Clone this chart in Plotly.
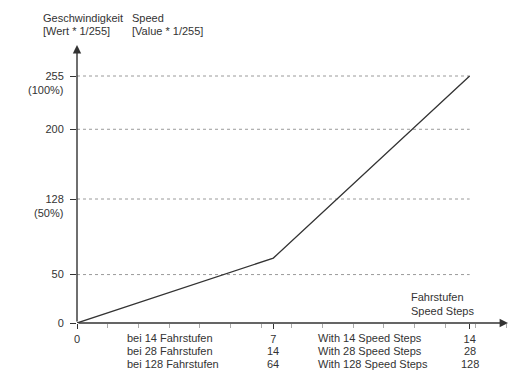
import plotly.graph_objects as go

# Data (x in 128-step units; 64 = half, 128 = full)
steps_128 = [0, 64, 128]
speed_value = [0, 67, 255]

y_ticks = [0, 50, 128, 200, 255]
y_grid = [50, 128, 200, 255]
y_pct_vals = [255, 128]
y_pct_text = ["(100%)", "(50%)"]

x_tickvals = [0, 64, 128]
x_row1 = ["0", "7", "14"]
x_row2 = ["", "14", "28"]
x_row3 = ["", "64", "128"]
de_rows = ["bei 14 Fahrstufen", "bei 28 Fahrstufen", "bei 128 Fahrstufen"]
en_rows = ["With 14 Speed Steps", "With 28 Speed Steps", "With 128 Speed Steps"]

FONT = "Liberation Sans"
TXT = "#333333"
SIZE = 11

# page geometry (page has an 8px body margin)
OFF = 8
PW, PH = 518, 383
PL, PR, PT, PB = 77, 508, 45, 323  # plot area in page pixels

fig = go.Figure()

for g in y_grid:
    fig.add_trace(go.Scatter(x=[0, max(steps_128)], y=[g, g], mode="lines",
                             line=dict(color="#9a9a9a", width=1, dash="3px,3px"),
                             hoverinfo="skip", showlegend=False))

fig.add_trace(go.Scatter(x=steps_128, y=speed_value, mode="lines",
                         line=dict(color="#333333", width=1.3),
                         showlegend=False))

def px(xp, yp):
    return (xp - PL) / (PR - PL), 1 - (yp - PT) / (PB - PT)

def text(xp, yp, t, anchor="left"):
    x, y = px(xp, yp)
    return dict(x=x, y=y, xref="paper", yref="paper", text=t, showarrow=False,
                xanchor=anchor, yanchor="middle", font=dict(family=FONT, size=SIZE, color=TXT))

ann = []
# axis arrows
ann.append(dict(x=140.5, y=0, ax=0, ay=0, xref="x", yref="y", axref="x", ayref="y",
                text="", showarrow=True, arrowhead=2, arrowsize=1.2, arrowwidth=1.4,
                arrowcolor=TXT, standoff=0))
ann.append(dict(x=0, y=287, ax=0, ay=0, xref="x", yref="y", axref="x", ayref="y",
                text="", showarrow=True, arrowhead=2, arrowsize=1.2, arrowwidth=1.4,
                arrowcolor=TXT, standoff=0))
for v, t in zip(y_pct_vals, y_pct_text):
    ann.append(dict(x=0, y=v, xref="x", yref="y", text=t, showarrow=False,
                    xanchor="right", yanchor="middle", xshift=-12, yshift=-14,
                    font=dict(family=FONT, size=SIZE, color=TXT)))
# lower rows of the x tick labels
for i, xv in enumerate(x_tickvals):
    for r, row in enumerate([x_row2, x_row3]):
        if row[i]:
            ann.append(dict(x=xv, y=0, xref="x", yref="y", text=row[i], showarrow=False,
                            xanchor="center", yanchor="middle", yshift=-15 - 13 * (r + 1),
                            font=dict(family=FONT, size=SIZE, color=TXT)))
# header and side texts
ann.append(text(41, 18, "Geschwindigkeit"))
ann.append(text(41, 31, "[Wert * 1/255]"))
ann.append(text(130, 18, "Speed"))
ann.append(text(130, 31, "[Value * 1/255]"))
ann.append(text(409, 297, "Fahrstufen"))
ann.append(text(409, 311, "Speed Steps"))
for r in range(3):
    ann.append(text(125, 338 + 13 * r, de_rows[r]))
    ann.append(text(316, 338 + 13 * r, en_rows[r]))

fig.update_layout(
    width=PW - OFF, height=PH - OFF,
    margin=dict(l=PL - OFF, r=PW - PR, t=PT - OFF, b=PH - PB),
    paper_bgcolor="white", plot_bgcolor="white",
    font=dict(family=FONT, size=SIZE, color=TXT),
    annotations=ann,
    xaxis=dict(range=[0, 140.5], showgrid=False, zeroline=False, showline=False,
               tickvals=x_tickvals, ticktext=x_row1, ticks="outside", ticklen=5,
               tickcolor=TXT, tickwidth=1, ticklabelstandoff=1,
               minor=dict(dtick=10, tick0=0, ticks="outside", ticklen=4,
                          tickcolor="#aaaaaa", showgrid=False)),
    yaxis=dict(range=[0, 287], showgrid=False, zeroline=False, showline=False,
               tickvals=y_ticks, ticks="outside", ticklen=6, tickcolor=TXT,
               tickwidth=1, ticklabelstandoff=4),
)

fig.write_html("out.html")
